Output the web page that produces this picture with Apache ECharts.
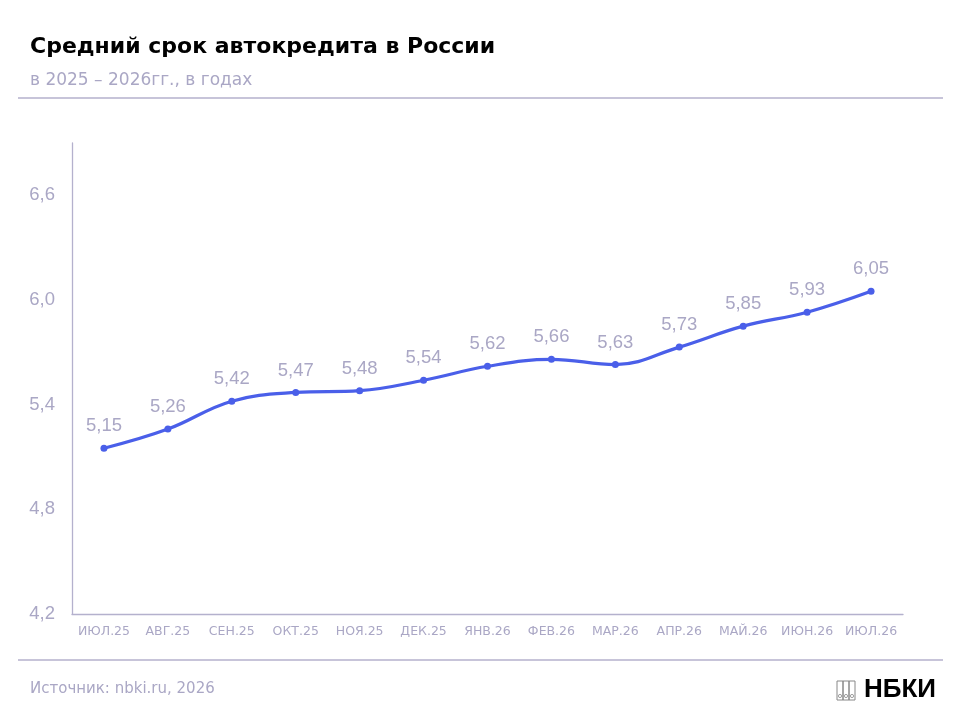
<!DOCTYPE html>
<html><head><meta charset="utf-8">
<script src="https://cdn.jsdelivr.net/npm/echarts@6/dist/echarts.min.js"></script>
<style>html,body{margin:0;padding:0;background:#fff}#c{width:960px;height:720px}</style>
</head><body><div id="c"></div>
<script>
const categories = ['ИЮЛ.25','АВГ.25','СЕН.25','ОКТ.25','НОЯ.25','ДЕК.25','ЯНВ.26','ФЕВ.26','МАР.26','АПР.26','МАЙ.26','ИЮН.26','ИЮЛ.26'];
const values = [5.15, 5.26, 5.42, 5.47, 5.48, 5.54, 5.62, 5.66, 5.63, 5.73, 5.85, 5.93, 6.05];
const yTicks = [4.2, 4.8, 5.4, 6.0, 6.6];
const titleText = 'Средний срок автокредита в России';
const subtitleText = 'в 2025 – 2026гг., в годах';
const sourceText = 'Источник: nbki.ru, 2026';

const grey = '#aaa7c5';
const axisCol = '#b4b1cd';
const chart = echarts.init(document.getElementById('c'), null, {renderer:'canvas'});
const fmt = v => v.toFixed(1).replace('.', ',');
chart.setOption({
  backgroundColor:'#fff',
  animation:false,
  grid:{left:72, right:57, top:143, bottom:106},
  xAxis:{
    type:'category', data:categories, boundaryGap:true,
    axisLine:{lineStyle:{color:axisCol, width:1.3}},
    axisTick:{show:false},
    axisLabel:{color:grey, fontFamily:'DejaVu Sans', fontSize:12.5, margin:11, interval:0}
  },
  yAxis:{
    type:'value', min:yTicks[0], max:6.9, interval:yTicks[1]-yTicks[0],
    splitLine:{show:false},
    axisLine:{show:true, lineStyle:{color:axisCol, width:1.3}},
    axisTick:{show:false},
    axisLabel:{color:grey, fontFamily:'Liberation Sans', fontSize:18.5, margin:17,
      showMaxLabel:false,
      formatter: v => yTicks.some(t => Math.abs(t - v) < 1e-6) ? fmt(v) : ''}
  },
  series:[{
    type:'line', data:values, smooth:0.4,
    lineStyle:{color:'#4a5fe9', width:3.2},
    itemStyle:{color:'#4a5fe9'},
    symbol:'circle', symbolSize:7,
    label:{show:true, position:'top', distance:9, color:grey,
      fontFamily:'Liberation Sans', fontSize:18.5,
      formatter: p => p.value.toFixed(2).replace('.', ',')}
  }],
  graphic:[
    {type:'text', left:30, top:36, style:{text:titleText, fill:'#000', font:'bold 22px "DejaVu Sans", sans-serif'}},
    {type:'text', left:30, top:72, style:{text:subtitleText, fill:grey, font:'17px "DejaVu Sans", sans-serif'}},
    {type:'line', shape:{x1:18, y1:98, x2:943, y2:98}, style:{stroke:axisCol, lineWidth:1.3}},
    {type:'line', shape:{x1:18, y1:660, x2:943, y2:660}, style:{stroke:axisCol, lineWidth:1.3}},
    {type:'text', left:30, top:682, style:{text:sourceText, fill:grey, font:'15px "DejaVu Sans", sans-serif'}},
    {type:'text', left:864, top:677, style:{text:'НБКИ', fill:'#000', font:'bold 26px "Liberation Sans", Arial, sans-serif'}},
    {type:'rect', shape:{x:837, y:681, width:6, height:19}, style:{fill:'none', stroke:'#888', lineWidth:1}},
    {type:'rect', shape:{x:843, y:681, width:6, height:19}, style:{fill:'none', stroke:'#888', lineWidth:1}},
    {type:'rect', shape:{x:849, y:681, width:6, height:19}, style:{fill:'none', stroke:'#888', lineWidth:1}},
    {type:'circle', shape:{cx:840, cy:696, r:1.6}, style:{fill:'none', stroke:'#888', lineWidth:0.8}},
    {type:'circle', shape:{cx:846, cy:696, r:1.6}, style:{fill:'none', stroke:'#888', lineWidth:0.8}},
    {type:'circle', shape:{cx:852, cy:696, r:1.6}, style:{fill:'none', stroke:'#888', lineWidth:0.8}}
  ]
});
</script></body></html>
